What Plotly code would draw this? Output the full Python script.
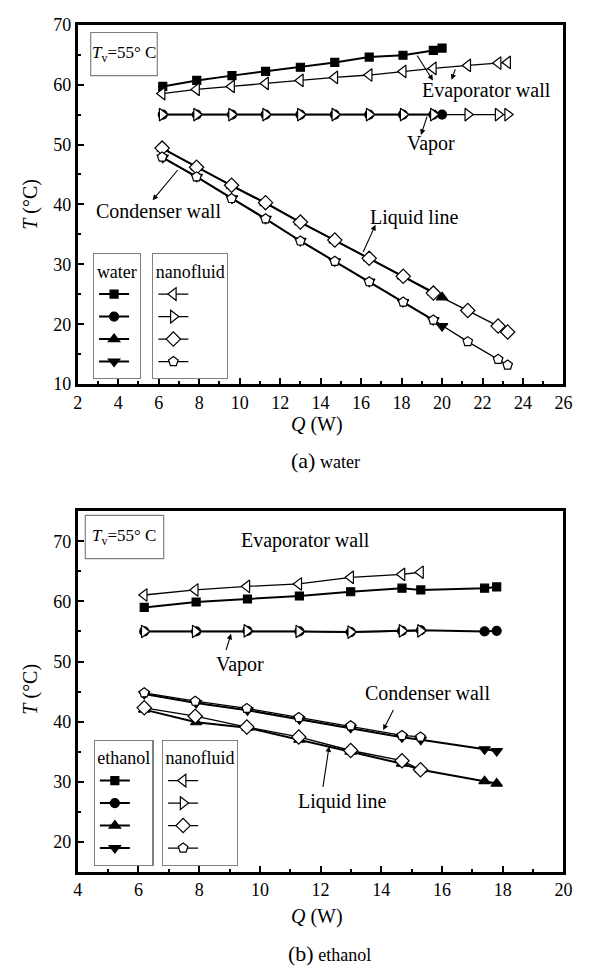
import plotly.graph_objects as go

FONT = "Liberation Serif"

# ---------------- (a) water ----------------
q_water = [6.2, 7.88, 9.62, 11.28, 13.0, 14.7, 16.4, 18.07, 19.57, 20.0]
t_evap_water = [59.7, 60.7, 61.5, 62.2, 62.9, 63.7, 64.6, 64.9, 65.7, 66.1]
t_vap_water = [55.0, 55.0, 55.0, 55.0, 55.0, 55.0, 55.0, 55.0, 55.0, 55.0]
t_liq_water = [49.3, 46.2, 43.1, 40.2, 37.0, 34.0, 31.0, 28.0, 25.3, 24.5]
t_cond_water = [47.8, 44.6, 41.0, 37.6, 33.9, 30.5, 27.1, 23.7, 20.7, 19.7]

q_nano_a = [6.17, 7.87, 9.6, 11.28, 13.0, 14.7, 16.4, 18.08, 19.57, 21.27, 22.77, 23.24]
t_evap_nano_a = [58.5, 59.2, 59.7, 60.2, 60.7, 61.2, 61.6, 62.2, 62.7, 63.2, 63.6, 63.7]
t_vap_nano_a = [55.0, 55.0, 55.0, 55.0, 55.0, 55.0, 55.0, 55.0, 55.0, 55.0, 55.0, 55.0]
t_liq_nano_a = [49.4, 46.2, 43.2, 40.3, 37.05, 34.05, 31.0, 28.0, 25.2, 22.3, 19.7, 18.7]
t_cond_nano_a = [47.9, 44.6, 41.0, 37.6, 33.9, 30.5, 27.1, 23.7, 20.7, 17.1, 14.15, 13.2]

# ---------------- (b) ethanol ----------------
q_eth = [6.19, 7.9, 9.59, 11.3, 12.99, 14.68, 15.3, 17.4, 17.8]
t_evap_eth = [59.0, 59.9, 60.4, 60.9, 61.6, 62.2, 61.9, 62.2, 62.4]
t_vap_eth = [55.0, 55.0, 55.1, 55.0, 54.9, 55.1, 55.2, 55.0, 55.1]
t_liq_eth = [42.0, 39.9, 39.0, 37.0, 35.0, 33.0, 32.0, 30.1, 29.7]
t_cond_eth = [44.6, 43.1, 41.9, 40.4, 39.0, 37.4, 37.0, 35.4, 35.1]

q_nano_b = [6.19, 7.87, 9.57, 11.28, 12.99, 14.68, 15.29]
t_evap_nano_b = [61.06, 61.9, 62.5, 62.9, 64.0, 64.5, 64.85]
t_vap_nano_b = [55.0, 55.0, 55.1, 55.0, 54.9, 55.1, 55.1]
t_liq_nano_b = [42.3, 40.9, 39.1, 37.45, 35.2, 33.5, 32.0]
t_cond_nano_b = [44.8, 43.4, 42.2, 40.7, 39.3, 37.7, 37.45]

# axis ticks
x_ticks_a = [2, 4, 6, 8, 10, 12, 14, 16, 18, 20, 22, 24, 26]
y_ticks_a = [10, 20, 30, 40, 50, 60, 70]
x_ticks_b = [4, 6, 8, 10, 12, 14, 16, 18, 20]
y_ticks_b = [20, 30, 40, 50, 60, 70]

W, H = 593, 975


def px_x(p):
    return p / W


def px_y(p):
    return 1 - p / H


fig = go.Figure()


def add_series(q, t, symbol, filled, xa, ya, legend, size, lw):
    fig.add_trace(go.Scatter(
        x=q, y=t, xaxis=xa, yaxis=ya, mode="lines+markers",
        name="", legend=legend,
        line=dict(color="black", width=lw),
        marker=dict(symbol=symbol, size=size,
                    color="black" if filled else "white",
                    line=dict(color="black", width=1.2)),
    ))


# base fluids first, nanofluid drawn on top
add_series(q_water, t_evap_water, "square", True, "x", "y", "legend", 8, 2.0)
add_series(q_water, t_vap_water, "circle", True, "x", "y", "legend", 9, 2.0)
add_series(q_water, t_liq_water, "triangle-up", True, "x", "y", "legend", 10, 2.0)
add_series(q_water, t_cond_water, "triangle-down", True, "x", "y", "legend", 10, 2.0)
add_series(q_nano_a, t_evap_nano_a, "triangle-left", False, "x", "y", "legend2", 11, 1.3)
add_series(q_nano_a, t_vap_nano_a, "triangle-right", False, "x", "y", "legend2", 11, 1.3)
add_series(q_nano_a, t_liq_nano_a, "diamond", False, "x", "y", "legend2", 11, 1.3)
add_series(q_nano_a, t_cond_nano_a, "pentagon", False, "x", "y", "legend2", 10, 1.3)

add_series(q_eth, t_evap_eth, "square", True, "x2", "y2", "legend3", 8, 2.0)
add_series(q_eth, t_vap_eth, "circle", True, "x2", "y2", "legend3", 9, 2.0)
add_series(q_eth, t_liq_eth, "triangle-up", True, "x2", "y2", "legend3", 10, 2.0)
add_series(q_eth, t_cond_eth, "triangle-down", True, "x2", "y2", "legend3", 10, 2.0)
add_series(q_nano_b, t_evap_nano_b, "triangle-left", False, "x2", "y2", "legend4", 11, 1.3)
add_series(q_nano_b, t_vap_nano_b, "triangle-right", False, "x2", "y2", "legend4", 11, 1.3)
add_series(q_nano_b, t_liq_nano_b, "diamond", False, "x2", "y2", "legend4", 11, 1.3)
add_series(q_nano_b, t_cond_nano_b, "pentagon", False, "x2", "y2", "legend4", 10, 1.3)

x_dom = [px_x(74.5), px_x(572)]
axis_common = dict(
    showgrid=False, zeroline=False, showline=True, linecolor="black",
    linewidth=2.6, mirror=True, ticks="inside", ticklen=6, tickwidth=2,
    tickcolor="black", tickfont=dict(family=FONT, size=18, color="black"),
)
minor_x = dict(ticks="inside", ticklen=3, tickwidth=1.5, tickcolor="black", dtick=1, showgrid=False)
minor_y = dict(ticks="inside", ticklen=3, tickwidth=1.5, tickcolor="black", dtick=5, showgrid=False)

fig.update_layout(
    width=W, height=H,
    margin=dict(l=0, r=0, t=0, b=0),
    paper_bgcolor="white", plot_bgcolor="white",
    font=dict(family=FONT, color="black"),
    xaxis=dict(domain=x_dom, range=[2, 26], tickvals=x_ticks_a, anchor="y",
               minor=minor_x, **axis_common),
    yaxis=dict(domain=[px_y(382), px_y(15)], range=[10, 70], tickvals=y_ticks_a,
               anchor="x", minor=minor_y, **axis_common),
    xaxis2=dict(domain=x_dom, range=[4, 20], tickvals=x_ticks_b, anchor="y2",
                minor=minor_x, **axis_common),
    yaxis2=dict(domain=[px_y(880), px_y(511.7)], range=[15, 75], tickvals=y_ticks_b,
                anchor="x2", minor=minor_y, **axis_common),
)

legend_common = dict(
    bgcolor="white", bordercolor="#808080", borderwidth=1.2,
    font=dict(family=FONT, size=15, color="black"),
    xanchor="left", yanchor="top", traceorder="normal",
    itemwidth=30, tracegroupgap=0,
)


def legend_cfg(title, x, y):
    d = dict(legend_common)
    d.update(x=x, y=y, title=dict(text=title, side="top center",
                                  font=dict(family=FONT, size=18, color="black")))
    return d


fig.update_layout(
    legend=legend_cfg("water", px_x(90), px_y(248.3)),
    legend2=legend_cfg("nanofluid", px_x(150.7), px_y(248.3)),
    legend3=legend_cfg("ethanol", px_x(90.8), px_y(745)),
    legend4=legend_cfg("nanofluid", px_x(160.7), px_y(745)),
)

# T_v boxes
fig.add_shape(type="rect", xref="x", yref="y", x0=2.64, x1=5.93, y0=61.5, y1=68.7,
              line=dict(color="#808080", width=1.2), fillcolor="white")
fig.add_shape(type="rect", xref="x2", yref="y2", x0=4.25, x1=6.83, y0=67.1, y1=74.3,
              line=dict(color="#808080", width=1.2), fillcolor="white")

ann = []
tv_text = "<i>T</i><sub>v</sub>=55° C"
ann.append(dict(xref="x", yref="y", x=4.28, y=65.1, text=tv_text, showarrow=False,
                xanchor="center", yanchor="middle",
                font=dict(family=FONT, size=17)))
ann.append(dict(xref="x2", yref="y2", x=5.54, y=70.7, text=tv_text, showarrow=False,
                xanchor="center", yanchor="middle",
                font=dict(family=FONT, size=17)))


def label(xr, yr, x, y, text):
    ann.append(dict(xref=xr, yref=yr, x=x, y=y, text=text, showarrow=False,
                    xanchor="center", yanchor="middle",
                    font=dict(family=FONT, size=20, color="black")))


def arrow(xr, yr, tail, head):
    ann.append(dict(xref=xr, yref=yr, axref=xr, ayref=yr, x=head[0], y=head[1],
                    ax=tail[0], ay=tail[1], text="", showarrow=True, arrowhead=2,
                    arrowsize=1, arrowwidth=1.1, arrowcolor="black", standoff=0,
                    startstandoff=0))


# labels for panel (a)
label("x", "y", 22.18, 59.0, "Evaporator wall")
arrow("x", "y", (18.72, 65.1), (19.55, 60.7))
arrow("x", "y", (20.68, 62.8), (20.47, 60.8))
label("x", "y", 19.44, 50.1, "Vapor")
arrow("x", "y", (19.28, 54.9), (18.96, 51.6))
label("x", "y", 5.98, 38.9, "Condenser wall")
arrow("x", "y", (7.0, 46.0), (5.7, 40.7))
label("x", "y", 18.62, 37.85, "Liquid line")
arrow("x", "y", (16.07, 31.8), (16.71, 36.6))

# labels for panel (b)
label("x2", "y2", 11.49, 70.2, "Evaporator wall")
label("x2", "y2", 9.36, 49.5, "Vapor")
arrow("x2", "y2", (8.87, 51.65), (9.05, 54.6))
label("x2", "y2", 15.53, 44.8, "Condenser wall")
arrow("x2", "y2", (14.42, 42.2), (14.06, 38.6))
label("x2", "y2", 12.7, 26.7, "Liquid line")
arrow("x2", "y2", (12.07, 28.9), (12.28, 35.9))


def paper_text(xp, yp, text, size, angle=0):
    ann.append(dict(xref="paper", yref="paper", x=px_x(xp), y=px_y(yp), text=text,
                    showarrow=False, xanchor="center", yanchor="middle",
                    textangle=angle, font=dict(family=FONT, size=size)))


# axis titles and panel captions
paper_text(320, 423, "<i>Q</i> (W)", 20)
paper_text(320, 925, "<i>Q</i> (W)", 20)
paper_text(26.5, 198, "<i>T</i> (°C)", 20, -90)
paper_text(26.5, 693, "<i>T</i> (°C)", 20, -90)
paper_text(328, 460, "<span style='font-size:22px'>(a)</span> water", 18)
paper_text(332, 963, "<span style='font-size:22px'>(b)</span> ethanol", 18)

fig.update_layout(annotations=ann)

fig.write_html("out.html")
